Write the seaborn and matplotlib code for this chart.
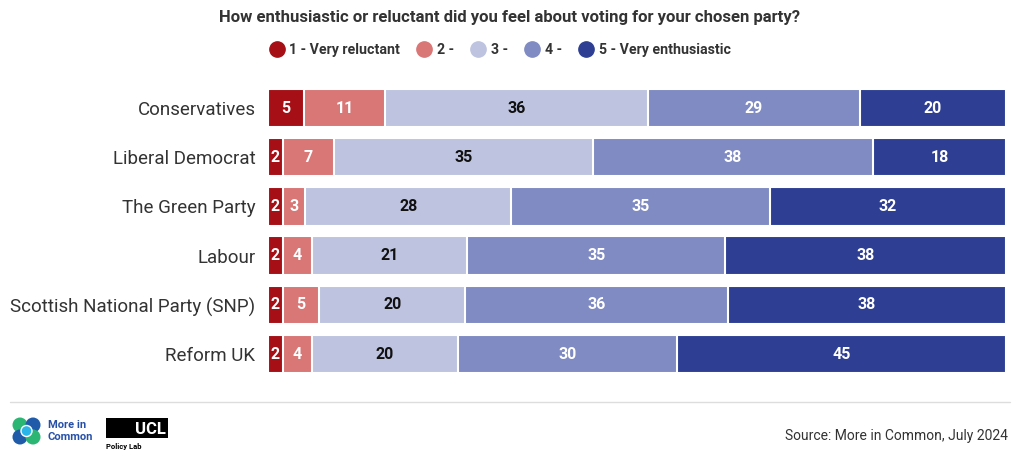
import numpy as np
import pandas as pd
import matplotlib.pyplot as plt
import seaborn as sns
from matplotlib.lines import Line2D
from matplotlib.patches import Ellipse, Rectangle

# Chart data
parties = ["Conservatives", "Liberal Democrat", "The Green Party", "Labour",
           "Scottish National Party (SNP)", "Reform UK"]
levels = ["1 - Very reluctant", "2 -", "3 -", "4 -", "5 - Very enthusiastic"]
very_reluctant = [5, 2, 2, 2, 2, 2]
score_2 = [11, 7, 3, 4, 5, 4]
score_3 = [36, 35, 28, 21, 20, 20]
score_4 = [29, 38, 35, 35, 36, 30]
very_enthusiastic = [20, 18, 32, 38, 38, 45]

colors = ["#A50F15", "#D97676", "#BEC3DF", "#7F8BC2", "#2E3F93"]
label_colors = ["white", "white", "#111111", "white", "white"]

sns.set_theme(style="white")
plt.rcParams["font.family"] = ["Roboto", "DejaVu Sans"]

df = pd.DataFrame({"party": parties, levels[0]: very_reluctant, levels[1]: score_2,
                   levels[2]: score_3, levels[3]: score_4, levels[4]: very_enthusiastic})
vals = df[levels].to_numpy(dtype=float)
shares = vals / vals.sum(axis=1, keepdims=True) * 100
cum = np.cumsum(shares, axis=1)

fig = plt.figure(figsize=(10.2, 4.67), dpi=100)
ax = fig.add_axes([0.2627, 0.189, 0.7233, 0.6324])

# stacked bars: draw cumulative totals from the widest down
for i in range(len(levels) - 1, -1, -1):
    sns.barplot(x=cum[:, i], y=df["party"], orient="h", color=colors[i],
                width=0.78, edgecolor="white", linewidth=1.5, ax=ax,
                saturation=1)

for r in range(len(parties)):
    for i in range(len(levels)):
        left = cum[r, i] - shares[r, i]
        ax.text(left + shares[r, i] / 2, r, f"{int(vals[r, i])}", ha="center",
                va="center", fontsize=11.5, fontweight="bold", color=label_colors[i])

ax.set_xlim(0, 100)
ax.set_ylim(5.5, -0.5)
ax.set_xlabel("")
ax.set_ylabel("")
ax.set_xticks([])
ax.tick_params(axis="y", length=0, pad=9, labelsize=13.5, labelcolor="#333333")
sns.despine(ax=ax, left=True, bottom=True)

fig.text(0.5, 0.962, "How enthusiastic or reluctant did you feel about voting for your chosen party?",
         ha="center", va="center", fontsize=12, fontweight="bold", color="#333333")

handles = [Line2D([0], [0], marker="o", linestyle="", markersize=11,
                  markerfacecolor=c, markeredgecolor=c) for c in colors]
fig.legend(handles, levels, loc="center", bbox_to_anchor=(0.487, 0.893), ncol=5,
           frameon=False, handletextpad=-0.1, columnspacing=0.7,
           prop={"weight": "bold", "size": 10.2})
for t in fig.legends[0].get_texts():
    t.set_color("#333333")

# footer
fig.add_artist(Line2D([0.01, 0.99], [0.139, 0.139], color="#DDDDDD", linewidth=1,
                      transform=fig.transFigure))
fig.text(0.988, 0.066, "Source: More in Common, July 2024", ha="right", va="center",
         fontsize=10, color="#333333")

# logos
W, H = 1020, 467
for (cx, cy, c) in [(20, 425, "#2BB673"), (33, 425, "#1F5BA8"),
                    (20, 437, "#1F5BA8"), (33, 437, "#2BB673")]:
    fig.add_artist(Ellipse((cx / W, 1 - cy / H), 15 / W, 15 / H, transform=fig.transFigure,
                           facecolor=c, edgecolor="none"))
fig.add_artist(Ellipse((26.5 / W, 1 - 431 / H), 11 / W, 11 / H, transform=fig.transFigure,
                       facecolor="#29B5E8", edgecolor="white", linewidth=1))
fig.text(48 / W, 1 - 425 / H, "More in", fontsize=8, fontweight="bold", color="#2650A8", va="center")
fig.text(48 / W, 1 - 437 / H, "Common", fontsize=8, fontweight="bold", color="#2650A8", va="center")
fig.add_artist(Rectangle((106 / W, 1 - 438 / H), 62 / W, 20 / H, transform=fig.transFigure,
                         facecolor="black", edgecolor="none"))
fig.text(166 / W, 1 - 429 / H, "UCL", fontsize=12, fontweight="bold", color="white",
         ha="right", va="center")
fig.text(106 / W, 1 - 446 / H, "Policy Lab", fontsize=5.5, fontweight="bold", color="black", va="center")

fig.savefig("out.png", dpi=100, facecolor="white")
